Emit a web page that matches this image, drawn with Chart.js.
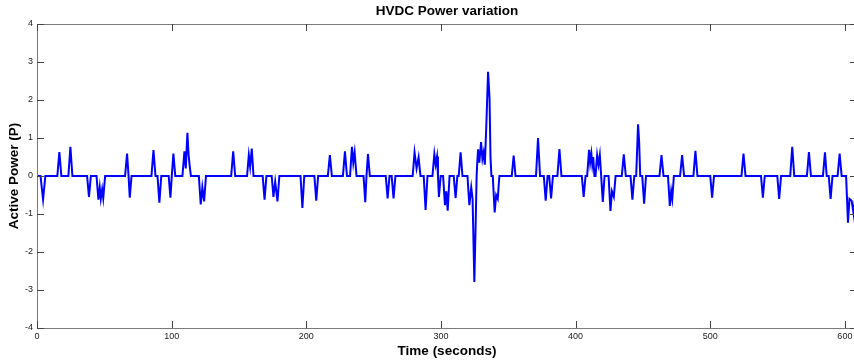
<!DOCTYPE html>
<html>
<head>
<meta charset="utf-8">
<script src="https://cdn.jsdelivr.net/npm/chart.js@4"></script>
<style>
html, body { margin: 0; padding: 0; background: #fff; overflow: hidden; }
#wrap { width: 862px; height: 364px; }
</style>
</head>
<body>
<div id="wrap"><canvas id="power-chart" width="862" height="364"></canvas></div>
<script>
// Time (s) and active power, one pulse per line
var time = [
    0,
    2.6, 4.5, 6.2,
    15.1, 16.6, 18.1,
    23.3, 24.8, 26.3,
    37.2, 38.6, 40.0,
    44.2, 45.6, 46.6, 47.4, 48.4, 49.2, 50.6,
    65.4, 66.9, 68.0, 68.9, 70.2,
    85.0, 86.5, 88.0,
    89.5, 90.9, 92.3,
    97.8, 99.1, 100.1, 101.3, 102.7,
    108.0, 109.5, 110.5, 111.7, 112.6, 113.3, 114.3,
    120.2, 121.6, 122.8, 124.1, 125.5,
    144.2, 145.7, 147.2,
    156.0, 157.3, 158.3, 159.5, 160.8,
    167.6, 169.0, 170.4,
    174.3, 175.6, 176.9, 178.6, 180.0,
    195.7, 197.1, 198.5,
    206.0, 207.4, 208.8,
    216.0, 217.5, 219.0,
    227.2, 228.7, 230.2,
    232.5, 233.9, 234.9, 235.9, 237.3,
    242.5, 243.8, 244.7, 245.8, 247.2,
    259.0, 260.4, 261.8,
    263.4, 264.8, 266.2,
    279.0, 280.4, 281.9, 283.4, 284.8,
    287.2, 288.6, 290.0,
    293.7, 295.1, 296.1, 297.1, 297.8, 298.5, 299.8,
    301.6, 303.0, 304.0, 305.0, 306.4,
    309.5, 310.9, 312.2,
    313.2, 314.6, 316.0,
    319.7, 321.1, 322.5, 323.5, 324.8, 325.7, 326.5,
    326.9, 327.6, 328.5, 329.8, 330.8, 331.7, 332.6, 333.7, 335.0, 336.1, 336.8, 337.5,
    338.5, 339.9, 341.0, 342.2, 343.4,
    352.6, 354.0, 355.4,
    370.6, 372.1, 373.6,
    376.4, 377.8, 379.2,
    380.4, 381.8, 383.2,
    386.5, 388.0, 389.5,
    404.6, 406.0, 407.4,
    408.6, 410.0, 410.8, 411.7, 412.4, 413.1, 414.0,
    414.8, 416.0, 417.0, 418.0, 419.0, 420.2, 421.5,
    424.5, 425.9, 427.0, 428.4, 429.7,
    434.3, 435.8, 437.3,
    440.8, 442.2, 443.6,
    445.0, 446.4, 447.2, 448.0,
    449.5, 450.9, 452.3,
    462.3, 463.8, 465.3,
    468.6, 470.0, 471.0, 471.8, 473.0,
    477.6, 479.1, 480.6,
    487.5, 489.0, 490.5,
    500.0, 501.4, 502.8,
    523.2, 524.7, 526.2,
    537.7, 539.1, 540.5,
    549.8, 551.2, 552.6,
    559.4, 560.9, 562.4,
    571.8, 573.3, 574.8,
    583.7, 585.2, 586.5,
    588.0, 589.4, 590.8,
    594.6, 596.1, 597.6,
    600.9, 602.3, 603.4, 605.0, 606.5, 607.5, 609.0
];
var power = [
    0,
    0, -0.62, 0,
    0, 0.63, 0,
    0, 0.77, 0,
    0, -0.55, 0,
    0, -0.62, -0.30, -0.60, -0.35, -0.58, 0,
    0, 0.59, 0, -0.57, 0,
    0, 0.68, 0,
    0, -0.70, 0,
    0, -0.57, 0, 0.59, 0,
    0, 0.65, 0.20, 1.14, 0.55, 0.30, 0,
    0, -0.75, -0.30, -0.67, 0,
    0, 0.65, 0,
    0, 0.55, 0.25, 0.72, 0,
    0, -0.62, 0,
    0, -0.55, -0.15, -0.67, 0,
    0, -0.84, 0,
    0, -0.65, 0,
    0, 0.55, 0,
    0, 0.65, 0,
    0, 0.77, 0.35, 0.62, 0,
    0, -0.69, 0, 0.58, 0,
    0, -0.59, 0,
    0, -0.59, 0,
    0, 0.62, 0.20, 0.49, 0,
    0, -0.89, 0,
    0, 0.58, 0.30, 0.51, 0, -0.55, 0,
    0, -0.77, -0.40, -0.91, 0,
    0, -0.58, 0,
    0, 0.62, 0,
    0, -0.77, -0.30, -0.60, -2.79, -1.40, 0,
    0.30, 0.70, 0.35, 0.89, 0.45, 0.62, 0.30, 1.33, 2.74, 2.03, 0.50, 0,
    0, -0.96, -0.50, -0.60, 0,
    0, 0.54, 0,
    0, 1.00, 0,
    0, -0.65, 0,
    0, -0.59, 0,
    0, 0.71, 0,
    0, -0.55, 0,
    0, 0.69, 0.35, 0.59, 0.30, 0.50, 0,
    0, 0.55, 0.30, 0.55, 0, -0.68, 0,
    0, -0.92, -0.40, -0.55, 0,
    0, 0.57, 0,
    0, -0.62, 0,
    0, 1.36, 0.90, 0,
    0, -0.73, 0,
    0, 0.55, 0,
    0, -0.79, -0.40, -0.60, 0,
    0, 0.55, 0,
    0, 0.66, 0,
    0, -0.57, 0,
    0, 0.59, 0,
    0, -0.57, 0,
    0, -0.60, 0,
    0, 0.77, 0,
    0, 0.63, 0,
    0, 0.62, 0,
    0, -0.60, 0,
    0, 0.59, 0,
    0, -1.23, -0.60, -0.65, -1.00, -0.60, -0.60
];
var xTicks = [0, 100, 200, 300, 400, 500, 600];
var yTicks = [-4, -3, -2, -1, 0, 1, 2, 3, 4];

var points = [];
for (var i = 0; i < time.length; i++) {
    points.push({x: time[i], y: power[i]});
}

// matlab style box with inward ticks
var boxPlugin = {
    id: 'matlabBox',
    afterDraw: function(chart) {
        var c = chart.ctx, a = chart.chartArea;
        var xs = chart.scales.x, ys = chart.scales.y;
        c.save();
        c.strokeStyle = '#7a7a7a';
        c.lineWidth = 1;
        c.strokeRect(a.left + 0.5, a.top + 0.5, a.right - a.left, a.bottom - a.top);
        c.strokeStyle = '#444';
        c.beginPath();
        xs.ticks.forEach(function(t) {
            var x = Math.round(xs.getPixelForValue(t.value)) + 0.5;
            c.moveTo(x, a.bottom); c.lineTo(x, a.bottom - 7);
            c.moveTo(x, a.top); c.lineTo(x, a.top + 7);
        });
        ys.ticks.forEach(function(t) {
            var y = Math.round(ys.getPixelForValue(t.value)) + 0.5;
            c.moveTo(a.left, y); c.lineTo(a.left + 7, y);
            c.moveTo(a.right, y); c.lineTo(a.right - 7, y);
        });
        c.stroke();
        c.restore();
    }
};

var ctx = document.getElementById('power-chart');
var config = {
    type: 'line',
    data: {
        datasets: [{
            data: points,
            borderColor: '#0000ff',
            borderWidth: 2,
            pointRadius: 0,
            tension: 0,
            fill: false
        }]
    },
    options: {
        responsive: false,
        animation: false,
        layout: { padding: { right: 5 } },
        plugins: {
            legend: { display: false },
            tooltip: { enabled: false },
            title: {
                display: true,
                text: 'HVDC Power variation',
                fullSize: false,
                color: '#000',
                font: { family: 'Liberation Sans', size: 13.5, weight: 'bold' },
                padding: { top: 3.5, bottom: 4.3 }
            }
        },
        scales: {
            x: {
                type: 'linear',
                min: 0,
                max: 609,
                afterBuildTicks: function(s) { s.ticks = xTicks.map(function(v) { return {value: v}; }); },
                afterFit: function(s) { s.height = 36; },
                grid: { display: false, drawTicks: false },
                border: { display: false },
                ticks: { color: '#222', padding: 3, maxRotation: 0, font: { family: 'Liberation Sans', size: 9 } },
                title: {
                    display: true,
                    text: 'Time (seconds)',
                    color: '#000',
                    font: { family: 'Liberation Sans', size: 13.5, weight: 'bold' },
                    padding: { top: 0, bottom: 5 }
                }
            },
            y: {
                min: -4,
                max: 4,
                afterBuildTicks: function(s) { s.ticks = yTicks.map(function(v) { return {value: v}; }); },
                afterFit: function(s) { s.width = 37; },
                grid: { display: false, drawTicks: false },
                border: { display: false },
                ticks: { color: '#222', padding: 4, font: { family: 'Liberation Sans', size: 9 } },
                title: {
                    display: true,
                    text: 'Active Power (P)',
                    color: '#000',
                    font: { family: 'Liberation Sans', size: 13.5, weight: 'bold' },
                    padding: { top: 5.7, bottom: 0 }
                }
            }
        }
    },
    plugins: [boxPlugin]
};

var powerChart = new Chart(ctx, config);
</script>
</body>
</html>
